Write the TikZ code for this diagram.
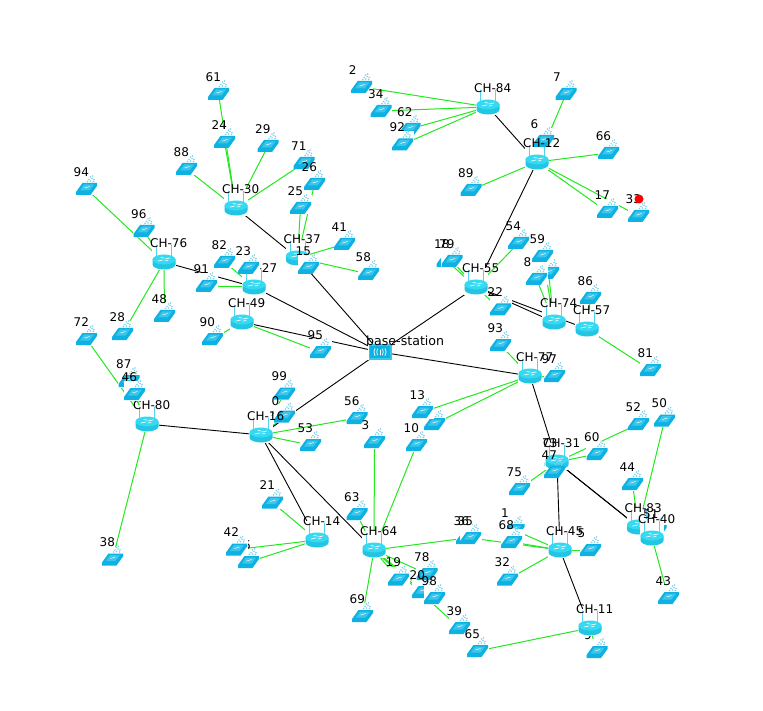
\documentclass[tikz,border=0pt]{standalone}
\usepackage{fontspec}
\setmainfont{DejaVu Sans}
\pgfdeclarelayer{links}
\pgfsetlayers{links,main}
\definecolor{sensorblue}{HTML}{0DB2E2}
\definecolor{sensortop}{HTML}{3CC6EC}
\definecolor{sensorwave}{HTML}{7FCFEA}
\definecolor{routertop}{HTML}{35DAF2}
\definecolor{routerside}{HTML}{22C6E2}
\definecolor{antenna}{HTML}{55D4EE}
\definecolor{linkgreen}{HTML}{22E81E}
\tikzset{
	port/.style={inner sep=0pt, minimum size=0pt},
	numlabel/.style={anchor=west, inner sep=0pt, font=\fontsize{12}{12}\selectfont},
	sensorlink/.style={linkgreen, line width=1pt},
	headlink/.style={black, line width=0.9pt},
	sensorshape/.pic={
		\fill[sensorblue] (-10.5,6) -- (-10.5,3) -- (-4,-6) -- (10.5,-6) -- (10.5,-3) -- (4,6) -- cycle;
		\fill[sensortop] (-6.5,1.5) -- (-2.5,-4.5) -- (7.5,-4.5) -- (3,1.5) -- cycle;
		\draw[white, line width=0.5pt] (-2,-1) -- (3,-2.5);
		\foreach \dotx/\doty in {1/-7.5,4/-8,7/-7.5,2.5/-9.5,5.5/-10.5,7.5/-9.5,4/-12,6/-13}
			\fill[sensorwave] (\dotx,\doty) circle (0.8);
	},
	sensoricon/.pic={
		\fill[white] (-11,-13) rectangle (11,6.5);
		\pic {sensorshape};
	},
	routericon/.pic={
		\fill[white] (-12,-19) rectangle (12,8);
		\draw[antenna, line width=0.9pt] (-7.5,-6) -- (-7.5,-17);
		\draw[antenna, line width=0.9pt] (7.5,-6) -- (7.5,-17);
		\fill[routerside] (-11.5,-2.5) -- (-11.5,2.5) arc[start angle=180, end angle=0, x radius=11.5, y radius=5] -- (11.5,-2.5) -- cycle;
		\fill[routertop] (0,-2.5) ellipse [x radius=11.5, y radius=5];
		\draw[white, line width=0.6pt] (-6,-1) -- (-1,-2) (1,-3) -- (6,-4) (-3,-4.5) -- (0,-4) (1,-1) -- (4,-1.5);
	}
}

\begin{document}
\begin{tikzpicture}[x=1pt, y=-1pt, line cap=round, line join=round]
	\useasboundingbox (0,0) rectangle (763,711);
	
	% ===== sensors hidden behind the cluster heads =====
	\foreach \n/\x/\y in {51/656/531, 73/555/460}
	{
		\pic at (\x,\y) {sensoricon};
		\node[port] (s\n) at (\x,\y) {};
	}
	\node[port] (s9) at (597,652) {};
	\pic at (s9) {sensoricon};
	\node[numlabel] (l9) at (584,635) {9};
	
	% ===== cluster heads =====
	\foreach \n/\x/\y in {84/488/107, 30/236/208, 37/297.5/258, 76/164/262,
		27/254/287, 49/242/322, 55/476/287, 74/554/322, 57/587/329, 77/530/376,
		14/317/540, 64/374/550, 80/147/424, 31/557/462, 45/560/550,
		11/590/628, 83/638.5/527, 40/652/538}
	{
		\pic at (\x,\y) {routericon};
		\node[port] (ch\n) at (\x,\y) {};
		\node[numlabel] (lh\n) at ({\x-14},{\y-19}) {CH-\n};
	}
	\foreach \n/\x/\y in {12/537/162, 16/261/435}
	{
		\pic at (\x,\y) {routericon};
		\node[port] (ch\n) at (\x,\y) {};
	}
	\node[numlabel] (l51) at (643,514) {51};
	\node[numlabel] (l73) at (542,443) {73};
	
	% ===== sensors whose number is set later, or not seen =====
	\foreach \n/\x/\y in {4/434.5/424, 67/548.5/273, 0/284.5/416.5, 3/374.5/442, 20/422.5/592}
	{
		\pic at (\x,\y) {sensoricon};
		\node[port] (s\n) at (\x,\y) {};
	}
	% this one leaves the head behind it in sight
	\pic at (554.5,472) {sensorshape};
	\node[port] (s47) at (554.5,472) {};
	\node[numlabel] (l47) at (541.5,455) {47};
	
	% ===== sensors =====
	\foreach \n/\x/\y in {6/543.5/141, 1/514/530, 2/361.7/87, 5/590.5/550,
		7/566/94, 8/536.5/279, 10/416.5/445, 13/422.5/412, 15/308.5/268, 17/607.5/212,
		18/447/261, 79/452/261, 19/398.5/579.5, 21/272.5/502.5, 22/500.5/309.5, 23/248.5/268,
		24/224.5/142, 25/300.5/208, 71/304/163, 26/314.5/184, 28/122.5/334, 29/268/146, 32/507.5/579.5,
		33/638.5/216, 34/381/111, 36/466.5/538, 35/470.5/538, 38/112.5/559.5, 78/427/574, 98/434.5/598,
		39/459.5/628, 41/344.5/244, 85/248.5/562, 42/236.5/549.5, 43/668.5/598, 44/632.5/484,
		87/129/381, 46/134.5/394, 48/164.5/316, 50/664.5/420.5, 52/638.5/424,
		53/310.5/445, 54/518.5/243, 56/357/418, 58/368.5/274, 59/542.5/256, 60/597/454,
		61/218.5/94, 62/410/129, 63/357/514, 65/477.5/651, 66/608.6/153, 68/511.5/542,
		69/362.5/616, 72/86.5/339, 75/519.5/489, 81/650.5/370, 82/224.5/262,
		86/590.5/298, 88/186.5/169, 89/471/190, 90/212.5/339, 91/206.5/286, 92/402.5/144.5,
		93/500.5/345, 94/86.5/189, 95/320.5/352, 96/144/231, 97/554.5/376, 99/284.5/393.5}
	{
		\pic at (\x,\y) {sensoricon};
		\node[port] (s\n) at (\x,\y) {};
		\node[numlabel] (l\n) at ({\x-13},{\y-17}) {\n};
	}
	
	% numbers that lie over other icons
	\node[numlabel] (l0) at (271.5,401) {0};
	\node[numlabel] (l3) at (361.5,425) {3};
	\node[numlabel] (l20) at (409.5,575) {20};
	\node[numlabel] (lh12) at (523,143) {CH-12};
	\node[numlabel] (lh16) at (247,416) {CH-16};
	
	% ===== base station =====
	\node[port] (base) at (380,352) {};
	\fill[white] (368,343) rectangle (392,360);
	\fill[sensortop] (368.5,344) rectangle (391.5,359.5);
	\fill[sensorblue] (370,345.5) rectangle (390,358);
	\draw[white, line width=0.8pt] (380,350) -- (380,355);
	\draw[white, line width=0.7pt] (377.5,349) .. controls (376.5,351) and (376.5,353) .. (377.5,355);
	\draw[white, line width=0.7pt] (382.5,349) .. controls (383.5,351) and (383.5,353) .. (382.5,355);
	\draw[white, line width=0.7pt] (375,348.5) .. controls (373.5,351) and (373.5,353) .. (375,355.5);
	\draw[white, line width=0.7pt] (385,348.5) .. controls (386.5,351) and (386.5,353) .. (385,355.5);
	\node[numlabel, font=\fontsize{12.6}{12.6}\selectfont] (lbase) at (366,341) {base-station};
	
	% the red mark
	\fill[red] (639,199) circle (4.5);
	
	% ===== links =====
	\begin{pgfonlayer}{links}
		% sensor to its cluster head
		\foreach \a/\b in {2/84, 34/84, 62/84, 92/84,
			6/12, 7/12, 66/12, 89/12, 17/12, 33/12,
			61/30, 24/30, 29/30, 71/30, 88/30,
			25/37, 26/37, 15/37, 41/37, 58/37,
			94/76, 96/76, 28/76, 48/76,
			82/27, 23/27, 91/27,
			90/49, 95/49,
			18/55, 79/55, 54/55, 22/55,
			59/74, 8/74, 67/74,
			86/57, 81/57,
			93/77, 97/77, 13/77, 4/77,
			60/31, 52/31, 75/31, 47/31, 73/31,
			44/83, 50/83, 43/40, 51/40,
			1/45, 68/45, 35/45, 32/45, 5/45,
			65/11, 9/11,
			3/64, 10/64, 63/64, 69/64, 19/64, 78/64, 20/64, 98/64, 39/64, 36/64,
			0/16, 99/16, 53/16, 56/16,
			21/14, 42/14, 85/14,
			72/80, 87/80, 46/80, 38/80}
			\draw[sensorlink] (s\a.center) -- (ch\b.center);
		% cluster head to cluster head
		\foreach \a/\b in {84/12, 12/55, 30/37, 76/27, 74/55, 57/55, 77/31,
			31/83, 31/40, 31/45, 45/11, 64/16, 14/16, 80/16}
			\draw[headlink] (ch\a.center) -- (ch\b.center);
		% cluster head to base station
		\foreach \a in {55, 37, 27, 49, 77, 16}
			\draw[headlink] (ch\a.center) -- (base.center);
	\end{pgfonlayer}
	
\end{tikzpicture}
\end{document}
